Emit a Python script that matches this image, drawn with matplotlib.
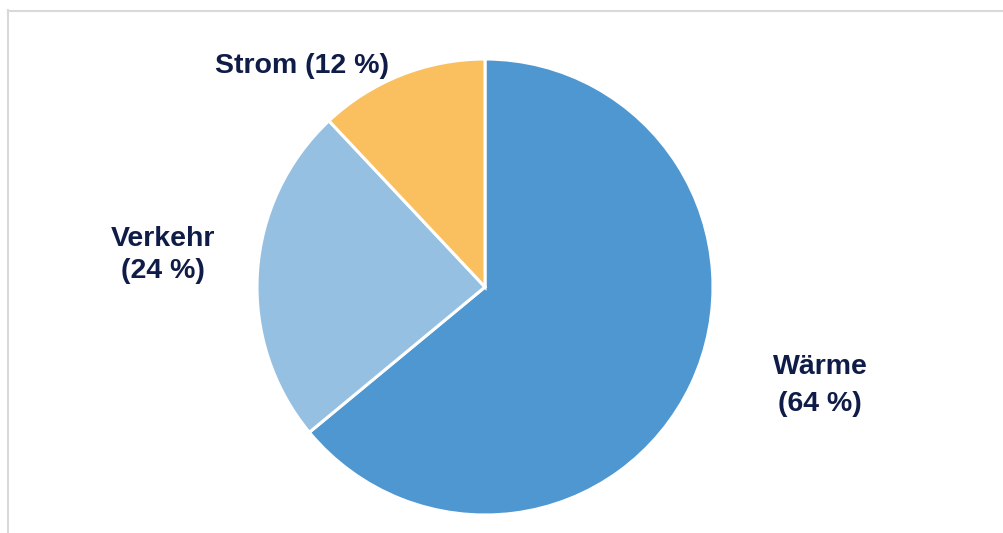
import matplotlib
matplotlib.use("Agg")
import matplotlib.pyplot as plt
from matplotlib.lines import Line2D

# Energy consumption shares by sector
categories = ["Wärme", "Verkehr", "Strom"]
shares = [64, 24, 12]
colors = ["#4F97D1", "#96C0E2", "#FAC060"]

W, H = 1004, 533
fig = plt.figure(figsize=(W / 100, H / 100), dpi=100)
ax = fig.add_axes([0, 0, 1, 1])

cx, cy, r = 485, H - 287, 228
ax.pie(shares, colors=colors, startangle=90, counterclock=False,
       center=(cx, cy), radius=r, frame=True,
       wedgeprops=dict(edgecolor="white", linewidth=2.2))
ax.set_xlim(0, W)
ax.set_ylim(0, H)
ax.set_aspect("equal")
ax.axis("off")

# Label placement: x centre and text baselines (pixels from the top)
label_pos = {
    "Wärme": (820, [374.5, 411]),
    "Verkehr": (163, [245.5, 277.5]),
    "Strom": (302, [72.5]),
}
style = dict(ha="center", va="baseline", fontsize=20.5, fontweight="bold",
             family="Liberation Sans", color="#101C48")
for name, val in zip(categories, shares):
    x, baselines = label_pos[name]
    if len(baselines) == 2:
        lines = [name, f"({val} %)"]
    else:
        lines = [f"{name} ({val} %)"]
    for line, y in zip(lines, baselines):
        ax.text(x, H - y, line, **style)

# Thin frame at top and left
fig.add_artist(Line2D([8 / W, 1.0], [1 - 10.5 / H, 1 - 10.5 / H],
                      transform=fig.transFigure, color="#D9D9D9", lw=1.5))
fig.add_artist(Line2D([8.5 / W, 8.5 / W], [0, 1 - 10 / H],
                      transform=fig.transFigure, color="#D9D9D9", lw=1.5))

fig.savefig("out.png", dpi=100, facecolor="white")
